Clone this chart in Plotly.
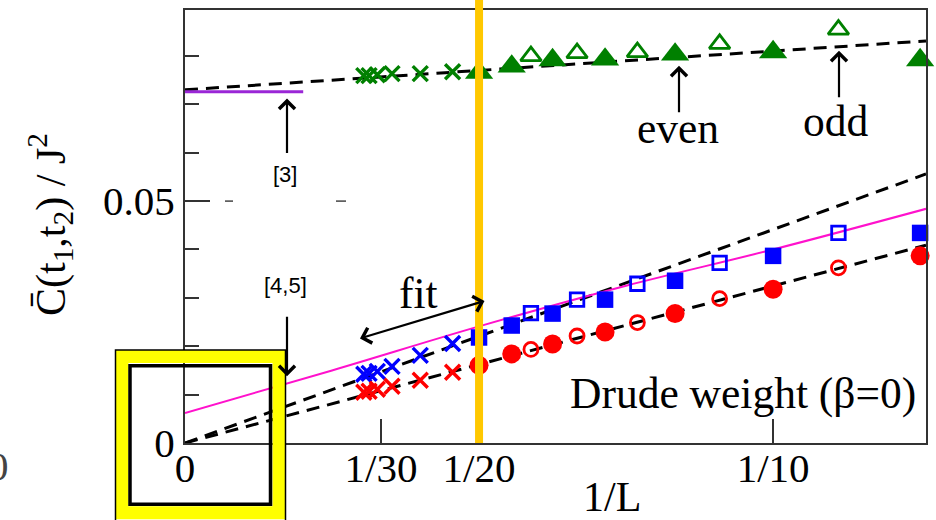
import plotly.graph_objects as go

# ---- data -------------------------------------------------------------
# 1/L for the largest systems (cross symbols)
inv_L_big = [0.0304, 0.0313, 0.0327, 0.0352, 0.0400, 0.0455]
green_big = [0.07593, 0.07593, 0.07613, 0.07634, 0.07634, 0.07675]
blue_big = [0.01420, 0.01440, 0.01481, 0.01584, 0.01811, 0.02058]
red_big = [0.01049, 0.01070, 0.01111, 0.01173, 0.01296, 0.01461]

# smaller systems, split into even and odd L
L_even = [20, 18, 16, 14, 12, 10, 8]
L_odd = [17, 15, 13, 11, 9]
green_even = [0.07654, 0.07784, 0.07916, 0.07928, 0.08031, 0.08080, 0.07916]
green_odd = [0.07998, 0.08060, 0.08080, 0.08251, 0.08545]
blue_even = [0.02181, 0.02428, 0.02675, 0.02963, 0.03354, 0.03868, 0.04342]
blue_odd = [0.02685, 0.02963, 0.03292, 0.03724, 0.04342]
red_even = [0.01605, 0.01842, 0.02047, 0.02294, 0.02675, 0.03179, 0.03868]
red_odd = [0.01934, 0.02212, 0.02490, 0.02984, 0.03621]

# straight-line extrapolations in 1/L
fit_x = [0.0, 0.126]
fit_green = [0.0730, 0.0831]
fit_blue = [0.0, 0.0556]
fit_red = [0.0, 0.0409]

# Drude weight curve and the literature value [3]
curve_x = [0.0, 0.025, 0.05, 0.075, 0.1, 0.126]
curve_y = [0.0062, 0.0150, 0.0241, 0.0325, 0.0400, 0.0484]
ref3_x = [0.0, 0.0201]
ref3_y = [0.0726, 0.0726]

x_ticks = [0, 1 / 30, 1 / 20, 1 / 10]
x_tick_text = ["0", "1/30", "1/20", "1/10"]

# ---- geometry helpers (pixel -> paper) -----------------------------------
W, H = 936, 520
ML, MR, MT, MB = 185, 10, 8, 77
PW, PH = W - ML - MR, H - MT - MB


def px(x):
    return (x - ML) / PW


def py(y):
    return (H - MB - y) / PH


SERIF = "Liberation Serif, Times New Roman, serif"
SANS = "Liberation Sans, Arial, sans-serif"
GREEN, BLUE, RED = "#008000", "#0000ff", "#ff0000"

inv_even = [1 / L for L in L_even]
inv_odd = [1 / L for L in L_odd]

fig = go.Figure()

dash = "13px,8px"
for ys in (fit_green, fit_blue, fit_red):
    fig.add_trace(go.Scatter(x=fit_x, y=ys, mode="lines",
                             line=dict(color="black", width=3, dash=dash)))

fig.add_trace(go.Scatter(x=curve_x, y=curve_y, mode="lines",
                         line=dict(color="#ff11cc", width=2, shape="spline")))
fig.add_trace(go.Scatter(x=ref3_x, y=ref3_y, mode="lines",
                         line=dict(color="#9a26d6", width=3)))


def crosses(ys, color):
    fig.add_trace(go.Scatter(x=inv_L_big, y=ys, mode="markers", cliponaxis=False,
                             marker=dict(symbol="x-thin", size=15,
                                         line=dict(color=color, width=3.4))))


def points(xs, ys, symbol, color, size, filled):
    if filled:
        m = dict(symbol=symbol, size=size, color=color, line=dict(width=0))
    else:
        m = dict(symbol=symbol + "-open", size=size, color=color,
                 line=dict(color=color, width=2.8))
    fig.add_trace(go.Scatter(x=xs, y=ys, mode="markers", cliponaxis=False, marker=m))


crosses(green_big, GREEN)
crosses(blue_big, BLUE)
crosses(red_big, RED)
points(inv_even, green_even, "triangle-up", GREEN, 24.5, True)
points(inv_odd, green_odd, "triangle-up", GREEN, 18, False)
points(inv_even, blue_even, "square", BLUE, 16.5, True)
points(inv_odd, blue_odd, "square", BLUE, 13.5, False)
points(inv_even, red_even, "circle", RED, 19, True)
points(inv_odd, red_odd, "circle", RED, 14, False)

# ---- text labels --------------------------------------------------------
ann = []


def label(x, y, text, size=43.5, family=SERIF, angle=0):
    ann.append(dict(x=px(x), y=py(y), xref="paper", yref="paper", text=text,
                    showarrow=False, xanchor="center", yanchor="middle",
                    textangle=angle, font=dict(family=family, size=size, color="black")))


def arrow(x0, y0, x1, y1, both=False, width=2.2):
    ann.append(dict(x=px(x1), y=py(y1), xref="paper", yref="paper", text="",
                    showarrow=True, ax=x0 - x1, ay=y0 - y1, axref="pixel", ayref="pixel",
                    arrowhead=4, startarrowhead=4, arrowsize=1.4, startarrowsize=1.4,
                    arrowwidth=width, arrowcolor="black",
                    arrowside="end+start" if both else "end"))


label(285, 173, "[3]", size=22, family=SANS)
arrow(287, 153, 287, 97)
label(285, 285, "[4,5]", size=22, family=SANS)
arrow(287, 315, 287, 376)
label(418, 292, "fit")
arrow(486, 300, 360, 338, both=True)
label(678, 127, "even")
arrow(679, 112, 679, 64)
label(836, 120, "odd")
arrow(839, 97, 839, 49)
label(743, 393, "Drude weight (β=0)")
label(612, 497, "1/L", size=42)
label(50, 224, "C\u0304(t<sub>1</sub>,t<sub>2</sub>) / J<sup>2</sup>", size=42, angle=-90)
# a neighbouring panel's tick label, only its right edge shows at the border
ann.append(dict(x=px(-2), y=py(466), xref="paper", yref="paper", text="0",
                showarrow=False, xanchor="center", yanchor="middle",
                font=dict(family=SERIF, size=41, color="#444")))

# ---- shapes: highlight line at 1/20, boxed origin, small dashes ------------
shapes = [
    dict(type="line", xref="x", yref="paper", x0=1 / 20, x1=1 / 20, y0=0, y1=1.03,
         line=dict(color="#ffc800", width=8), layer="above"),
    dict(type="line", xref="paper", yref="y", x0=px(225), x1=px(233), y0=0.05, y1=0.05,
         line=dict(color="#444", width=1.5)),
    dict(type="line", xref="paper", yref="y", x0=px(336), x1=px(346), y0=0.05, y1=0.05,
         line=dict(color="#444", width=1.5)),
    dict(type="rect", xref="paper", yref="paper", x0=px(122), x1=px(279), y0=py(356),
         y1=py(513), line=dict(color="#ffff00", width=13), layer="above"),
    dict(type="rect", xref="paper", yref="paper", x0=px(115.5), x1=px(285.5), y0=py(349.5),
         y1=py(524), line=dict(color="black", width=1.5), layer="above"),
    dict(type="rect", xref="paper", yref="paper", x0=px(130), x1=px(270.5), y0=py(365.5),
         y1=py(504.5), line=dict(color="black", width=3.5), layer="above"),
]

fig.update_layout(
    width=W, height=H, margin=dict(l=ML, r=MR, t=MT, b=MB),
    paper_bgcolor="white", plot_bgcolor="white", showlegend=False,
    annotations=ann, shapes=shapes,
    font=dict(family=SERIF, size=41, color="black"),
)
fig.update_xaxes(range=[0, 0.126], tickmode="array", tickvals=x_ticks, ticktext=x_tick_text,
                 ticks="inside", ticklen=24, tickwidth=1.5, tickcolor="#333",
                 ticklabelstandoff=-12,
                 showline=True, linecolor="#333", linewidth=2, mirror=True,
                 showgrid=False, zeroline=False,
                 tickfont=dict(family=SERIF, size=41, color="black"))
fig.update_yaxes(range=[0, 0.0895], tickmode="linear", tick0=0, dtick=0.05,
                 ticks="inside", ticklen=25, tickwidth=1.5, tickcolor="#333",
                 minor=dict(tick0=0, dtick=0.01, ticks="inside", ticklen=14,
                            tickwidth=1.5, tickcolor="#333"),
                 showline=True, linecolor="#333", linewidth=2, mirror=True,
                 showgrid=False, zeroline=False,
                 tickfont=dict(family=SERIF, size=41, color="black"))

fig.write_html("out.html")
